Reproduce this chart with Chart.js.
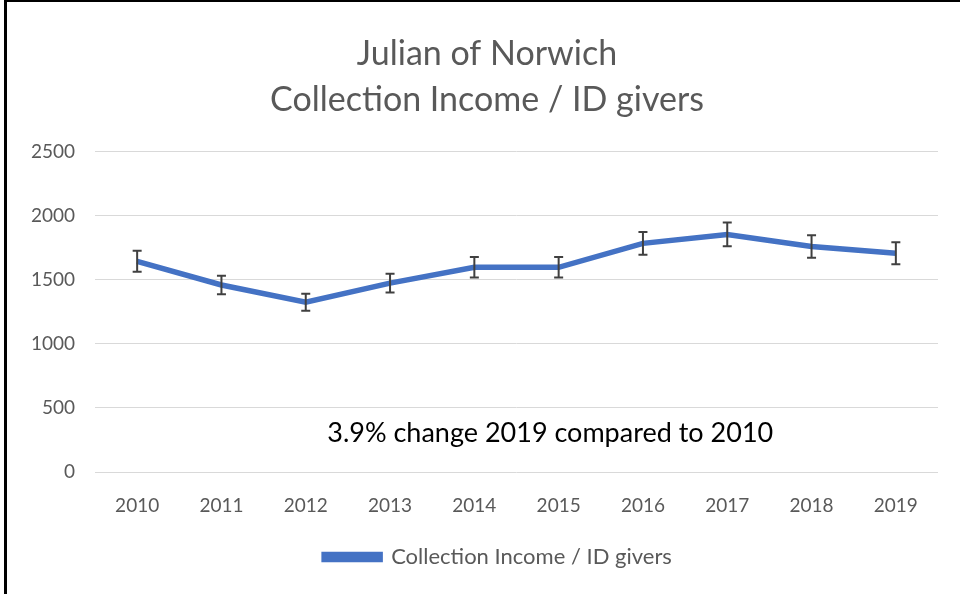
<!DOCTYPE html>
<html>
<head>
<meta charset="utf-8">
<script src="https://cdn.jsdelivr.net/npm/chart.js@4/dist/chart.umd.min.js"></script>
<style>
  html, body { margin: 0; padding: 0; background: #fff; }
  #wrap { position: relative; width: 960px; height: 594px; }
  #frame { position: absolute; left: 4px; top: 0; right: 0; bottom: 0;
           border-left: 3px solid #000; border-top: 2px solid #000; pointer-events: none; }
</style>
</head>
<body>
<div id="wrap">
  <canvas id="chart" width="960" height="594"></canvas>
  <div id="frame"></div>
</div>
<script>
const years = ['2010', '2011', '2012', '2013', '2014', '2015', '2016', '2017', '2018', '2019'];
const incomePerGiver = [1645, 1460, 1325, 1475, 1598, 1598, 1785, 1855, 1760, 1708];
const yTicks = [0, 500, 1000, 1500, 2000, 2500];
const errorPct = 0.05;
const noteText = '3.9% change 2019 compared to 2010';

const fontName = 'Lato, "Open Sans", sans-serif';
const grey = '#595959';

/* error bars + note */
const extras = {
  id: 'extras',
  afterLayout(chart) {
    // title and legend sit a little right of centre in the original
    chart.titleBlock.left += 13; chart.titleBlock.right += 13;
    chart.legend.left += 24; chart.legend.right += 24;
  },
  afterDatasetsDraw(chart) {
    const ctx = chart.ctx;
    const x = chart.scales.x, y = chart.scales.y;
    ctx.save();
    ctx.strokeStyle = '#404040';
    ctx.lineWidth = 2;
    incomePerGiver.forEach(function(v, i) {
      const px = x.getPixelForValue(i);
      const top = y.getPixelForValue(v * (1 + errorPct));
      const bot = y.getPixelForValue(v * (1 - errorPct));
      ctx.beginPath();
      ctx.moveTo(px, top); ctx.lineTo(px, bot);
      ctx.moveTo(px - 4.5, top); ctx.lineTo(px + 4.5, top);
      ctx.moveTo(px - 4.5, bot); ctx.lineTo(px + 4.5, bot);
      ctx.stroke();
    });
    ctx.fillStyle = '#000';
    ctx.font = '27px ' + fontName;
    ctx.textAlign = 'center';
    ctx.textBaseline = 'middle';
    ctx.fillText(noteText, x.getPixelForValue(4.9), y.getPixelForValue(300));
    ctx.restore();
  }
};

new Chart(document.getElementById('chart'), {
  type: 'line',
  data: {
    labels: years,
    datasets: [{
      label: 'Collection Income / ID givers',
      data: incomePerGiver,
      borderColor: '#4472C4',
      backgroundColor: '#4472C4',
      borderWidth: 5.5,
      pointRadius: 0,
      tension: 0
    }]
  },
  options: {
    responsive: false,
    animation: false,
    layout: { padding: { left: 10, right: 22, bottom: 16 } },
    scales: {
      x: {
        offset: true,
        afterFit(axis) { axis.height = 48; },
        grid: { display: false, drawTicks: false },
        border: { display: false },
        ticks: { color: grey, font: { family: fontName, size: 19 }, padding: 22 }
      },
      y: {
        min: 0,
        max: 2500,
        afterBuildTicks(axis) { axis.ticks = yTicks.map(function(v) { return { value: v }; }); },
        afterFit(axis) { axis.width = 85; },
        grid: { color: '#d9d9d9', drawTicks: false },
        border: { display: false },
        ticks: {
          color: grey,
          font: { family: fontName, size: 19 },
          padding: 20,
          callback: function(v) { return String(v); }
        }
      }
    },
    plugins: {
      title: {
        display: true,
        text: ['Julian of Norwich', 'Collection Income / ID givers'],
        color: grey,
        font: { family: fontName, size: 34, weight: 'normal', lineHeight: 1.35 },
        padding: { top: 31, bottom: 29 }
      },
      legend: {
        position: 'bottom',
        labels: {
          color: grey,
          font: { family: fontName, size: 22 },
          boxWidth: 56,
          boxHeight: 5,
          padding: 26
        }
      },
      tooltip: { enabled: false }
    }
  },
  plugins: [extras]
});
</script>
</body>
</html>
